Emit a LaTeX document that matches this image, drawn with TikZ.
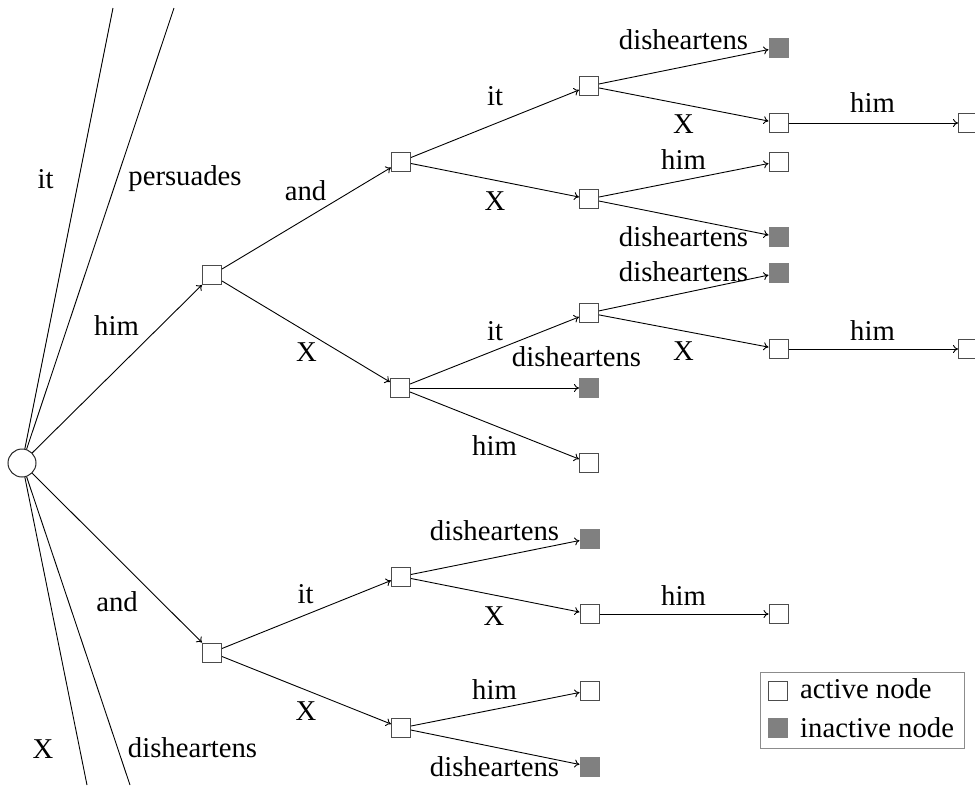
\documentclass[tikz,border=0pt]{standalone}
\usepackage{fontspec}
\setmainfont{Liberation Serif}
\usetikzlibrary{arrows.meta}
\begin{document}
\begin{tikzpicture}[x=1pt,y=-1pt,
  every node/.style={font=\fontsize{28.7}{34}\selectfont},
  act/.style={draw=black!70, fill=white, line width=1pt, minimum size=19pt, inner sep=0pt},
  inact/.style={draw=black!50, fill=black!50, line width=1pt, minimum size=19pt, inner sep=0pt},
  edgeline/.style={line width=0.9pt, -{To[length=5pt,width=8pt]}},
  plainline/.style={line width=0.9pt},
  lbl/.style={anchor=base, inner sep=0pt},
  ]
\useasboundingbox (0,0) rectangle (975,785);

% nodes
\node[circle, draw=black!85, line width=1pt, minimum size=28pt, inner sep=0pt] (root) at (22,463) {};
\node[act] (A) at (212,275) {};
\node[act] (B) at (212,652.5) {};
\node[act] (C) at (401,161.5) {};
\node[act] (D) at (400,388) {};
\node[act] (E) at (401,576.5) {};
\node[act] (F) at (401,728) {};
\node[act] (G) at (589,86) {};
\node[act] (H) at (589,199) {};
\node[act] (I) at (589,313) {};
\node[inact] (J) at (589,388) {};
\node[act] (K) at (589,463) {};
\node[inact] (L) at (589.5,538.5) {};
\node[act] (M) at (589.5,614) {};
\node[act] (N) at (589.5,690.5) {};
\node[inact] (O) at (589.5,766.5) {};
\node[inact] (P) at (778.5,47.5) {};
\node[act] (Q) at (778.5,123) {};
\node[act] (R) at (778.5,161.5) {};
\node[inact] (S) at (778.5,237) {};
\node[inact] (T) at (778.5,273) {};
\node[act] (U) at (778.5,349) {};
\node[act] (V) at (778.5,614) {};
\node[act] (W) at (968,123) {};
\node[act] (Y) at (968,349) {};

% free ends of root lines
\coordinate (t1) at (113,8);
\coordinate (t2) at (174,8);
\coordinate (b1) at (87,785);
\coordinate (b2) at (130,785);

\draw[plainline] (root) -- (t1);
\draw[plainline] (root) -- (t2);
\draw[plainline] (root) -- (b1);
\draw[plainline] (root) -- (b2);

% edges
\draw[edgeline] (root) -- (A);
\draw[edgeline] (root) -- (B);
\draw[edgeline] (A) -- (C);
\draw[edgeline] (A) -- (D);
\draw[edgeline] (B) -- (E);
\draw[edgeline] (B) -- (F);
\draw[edgeline] (C) -- (G);
\draw[edgeline] (C) -- (H);
\draw[edgeline] (D) -- (I);
\draw[edgeline] (D) -- (J);
\draw[edgeline] (D) -- (K);
\draw[edgeline] (E) -- (L);
\draw[edgeline] (E) -- (M);
\draw[edgeline] (F) -- (N);
\draw[edgeline] (F) -- (O);
\draw[edgeline] (G) -- (P);
\draw[edgeline] (G) -- (Q);
\draw[edgeline] (H) -- (R);
\draw[edgeline] (H) -- (S);
\draw[edgeline] (I) -- (T);
\draw[edgeline] (I) -- (U);
\draw[edgeline] (M) -- (V);
\draw[edgeline] (Q) -- (W);
\draw[edgeline] (U) -- (Y);

% labels
\node[lbl] (l1) at (45.5,188) {it};
\node[lbl] (l2) at (185,185) {persuades};
\node[lbl] (l3) at (116.5,335) {him};
\node[lbl] (l4) at (305.5,200) {and};
\node[lbl] (l5) at (306.5,361) {X};
\node[lbl] (l6) at (495,105) {it};
\node[lbl] (l7) at (495,210) {X};
\node[lbl] (l8) at (683.5,49) {disheartens};
\node[lbl] (l9) at (683.5,133) {X};
\node[lbl] (l10) at (872.5,112) {him};
\node[lbl] (l11) at (683.5,169) {him};
\node[lbl] (l12) at (683.5,246) {disheartens};
\node[lbl] (l13) at (495,340) {it};
\node[lbl] (l14) at (576.5,366) {disheartens};
\node[lbl] (l15) at (494.5,455) {him};
\node[lbl] (l16) at (683.5,281) {disheartens};
\node[lbl] (l17) at (683.5,360) {X};
\node[lbl] (l18) at (872.5,340) {him};
\node[lbl] (l19) at (117,611) {and};
\node[lbl] (l20) at (43,758) {X};
\node[lbl] (l21) at (192.5,757) {disheartens};
\node[lbl] (l22) at (305.5,603) {it};
\node[lbl] (l23) at (306,720) {X};
\node[lbl] (l24) at (494.5,540) {disheartens};
\node[lbl] (l25) at (494,625) {X};
\node[lbl] (l26) at (683.5,605) {him};
\node[lbl] (l27) at (494.5,699) {him};
\node[lbl] (l28) at (494.5,776) {disheartens};

% legend
\node[draw=black!45, line width=1pt, minimum width=204pt, minimum height=76pt, inner sep=0pt] (legend) at (862,710) {};
\node[act] (legact) at (778,691) {};
\node[inact] (leginact) at (778,728) {};
\node[anchor=base west, inner sep=0pt] (legt1) at (800,698) {active node};
\node[anchor=base west, inner sep=0pt] (legt2) at (800,737) {inactive node};
\end{tikzpicture}
\end{document}
